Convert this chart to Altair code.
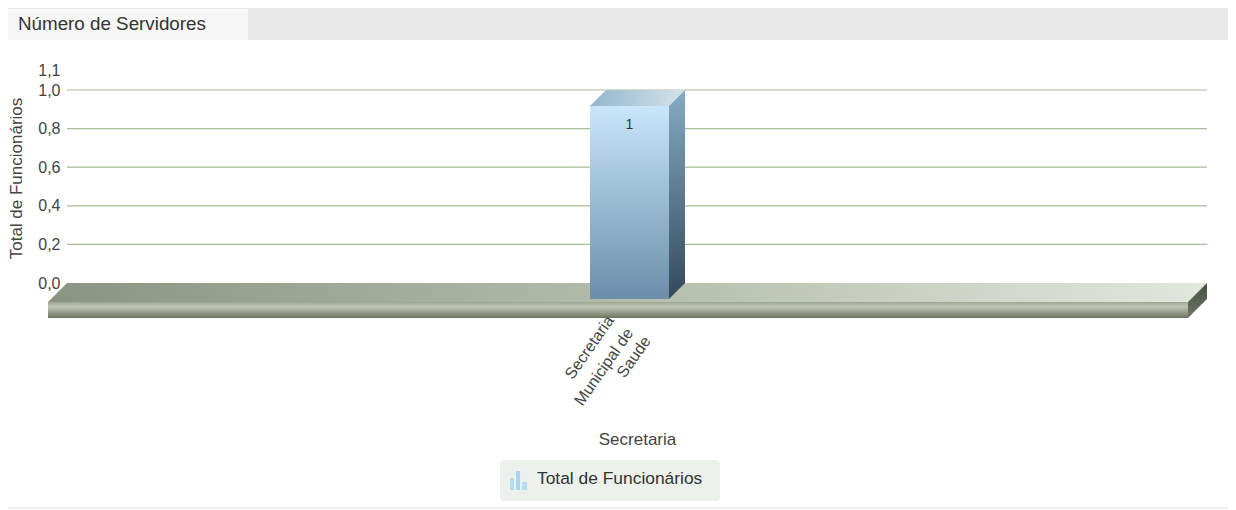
import altair as alt
import pandas as pd

# ---- chart values ----
categories = ["Secretaria Municipal de Saude"]
values = [1]
y_ticks = [0.0, 0.2, 0.4, 0.6, 0.8, 1.0, 1.1]
grid_values = [0.2, 0.4, 0.6, 0.8, 1.0]
category_lines = ["Secretaria", "Municipal de", "Saude"]
y_title = "Total de Funcionários"
x_title = "Secretaria"
panel_title = "Número de Servidores"
legend_label = "Total de Funcionários"

FONT = "Liberation Sans"
TXT = "#444444"

# page pixel -> data helpers for the pseudo-3D geometry
def xu(px):
    return (px - 618) / 1140
def yh(px):
    return px / 193

X = alt.Scale(domain=[-0.5, 0.5], range=[40, 1180], nice=False, zero=False)
Y = alt.Scale(domain=[0, 1.1], range=[275, 275 - 193 * 1.1], nice=False, zero=False)
X_AXIS = alt.Axis(
    title=x_title, values=[], domain=False, ticks=False, labels=False, grid=False,
    titleFont=FONT, titleFontSize=17, titleFontWeight="normal", titleColor=TXT,
    titleX=629, titleY=-79, titleAnchor="middle", titleAlign="center")
Y_AXIS = alt.Axis(
    title=y_title, values=y_ticks, domain=False, ticks=False, grid=False,
    offset=-52, labelPadding=0, labelFont=FONT, labelFontSize=16, labelColor=TXT,
    labelExpr="replace(format(datum.value, '.1f'), '.', ',')",
    titleFont=FONT, titleFontSize=17, titleFontWeight="normal", titleColor=TXT,
    titleX=-35, titleY=170, titleAnchor="middle", titleAlign="center", titleAngle=270)
xf = lambda: alt.X("x:Q", scale=X, axis=X_AXIS)
yf = lambda: alt.Y("y:Q", scale=Y, axis=Y_AXIS)
one = pd.DataFrame({"a": [0]})


def grad_v(*stops):
    return alt.LinearGradient(gradient="linear", x1=0, x2=0, y1=0, y2=1,
                              stops=[alt.GradientStop(offset=o, color=c) for o, c in stops])


def grad_h(*stops):
    return alt.LinearGradient(gradient="linear", x1=0, x2=1, y1=0, y2=0,
                              stops=[alt.GradientStop(offset=o, color=c) for o, c in stops])


def box(x1, x2, y1, y2, fill, radius=0):
    return alt.Chart(one).mark_rect(fill=fill, cornerRadius=radius).encode(
        x=alt.value(x1 - 8), x2=alt.value(x2 - 8), y=alt.value(y1 - 8), y2=alt.value(y2 - 8))


def label(text, x, y, size, align="left", color=TXT):
    return alt.Chart(one).mark_text(text=text, font=FONT, fontSize=size, align=align,
                                    baseline="middle", color=color).encode(
        x=alt.value(x - 8), y=alt.value(y - 8))


def area(rows, fill):
    return alt.Chart(pd.DataFrame(rows, columns=["x", "y", "y2"])).mark_area(fill=fill).encode(
        x=xf(), y=yf(), y2="y2:Q")


# ---- chrome ----
chrome = [
    box(8, 1228, 8, 40, "#e9e9e9"),
    box(8, 248, 9, 40, "#f7f7f7"),
    label(panel_title, 18, 24, 18.8, color="#333333"),
    box(8, 1228, 507, 509, "#eeeeee"),
    box(500, 720, 460, 501, "#edf1ec", 4),
    box(510, 514, 478, 490, "#b5dcf7"),
    box(516, 520, 471, 490, "#a6d5f5"),
    box(522, 527, 482, 490, "#b5dcf7"),
    label(legend_label, 537, 479, 17.4, color="#333333"),
]

# ---- gridlines + axes ----
grid_df = pd.DataFrame({"y": grid_values, "x": xu(67), "x2": xu(1207)})
grid = alt.Chart(grid_df).mark_rule(color="#a9bd98", strokeWidth=1.2).encode(
    x=xf(), x2="x2:Q", y=yf())

# ---- floor ----
d_f = yh(19)
xL, xR, dx = xu(48), xu(1188), xu(67) - xu(48)
floor_top = area([[xL, -d_f, -d_f], [xL + dx, 0, -d_f], [xR, 0, -d_f], [xR + dx, 0, 0]],
                 grad_h((0, "#8b9482"), (0.5, "#b4bcaa"), (1, "#e2e7dd")))
floor_front = alt.Chart(pd.DataFrame({"x": [xL], "x2": [xR], "y": [-d_f], "y2": [-d_f - yh(16)]})).mark_rect(
    fill=grad_v((0, "#9da693"), (0.3, "#c0c6b5"), (1, "#6c7561"))).encode(
    x=xf(), x2="x2:Q", y=yf(), y2="y2:Q")
floor_side = area([[xR, -d_f, -d_f - yh(16)], [xR + dx, 0, -yh(16)]],
                  grad_v((0, "#454e3d"), (1, "#6f7867")))

# ---- bar (3D) ----
v = values[0]
d_b = yh(16)
bl, br, bd = xu(590), xu(669), xu(606) - xu(590)
bar_front = alt.Chart(pd.DataFrame({"x": [bl], "x2": [br], "y": [v - d_b], "y2": [-d_b]})).mark_rect(
    fill=grad_v((0, "#c9e6fb"), (1, "#6b8fa9"))).encode(
    x=xf(), x2="x2:Q", y=yf(), y2="y2:Q")
bar_top = area([[bl, v - d_b, v - d_b], [bl + bd, v, v - d_b], [br, v, v - d_b], [br + bd, v, v]],
               grad_h((0, "#93b6cd"), (1, "#d5e3ea")))
bar_side = area([[br, v - d_b, -d_b], [br + bd, v, 0]],
                grad_v((0, "#84abc4"), (1, "#34495a")))
val_df = pd.DataFrame({"x": [(bl + br) / 2], "y": [v - yh(35)], "t": [str(v)]})
bar_value = alt.Chart(val_df).mark_text(font=FONT, fontSize=14, color="#333333").encode(
    x=xf(), y=yf(), text="t:N")

# ---- rotated category label ----
cat_df = pd.DataFrame({
    "x": [xu(589.5), xu(604), xu(634)],
    "y": [yh(283 - 347.5), yh(283 - 367), yh(283 - 357)],
    "t": category_lines,
})
cat_text = alt.Chart(cat_df).mark_text(font=FONT, fontSize=16, color=TXT, angle=305,
                                       align="center", baseline="middle").encode(
    x=xf(), y=yf(), text="t:N")

chart = alt.layer(
    *chrome, grid, floor_top, floor_front, floor_side,
    bar_top, bar_side, bar_front, bar_value, cat_text,
).properties(
    width=1220, height=502, padding=0, autosize=alt.AutoSizeParams(type="none"),
    background="white",
).configure_view(stroke=None)

chart.save("out.html", embed_options={"renderer": "svg", "actions": False})
